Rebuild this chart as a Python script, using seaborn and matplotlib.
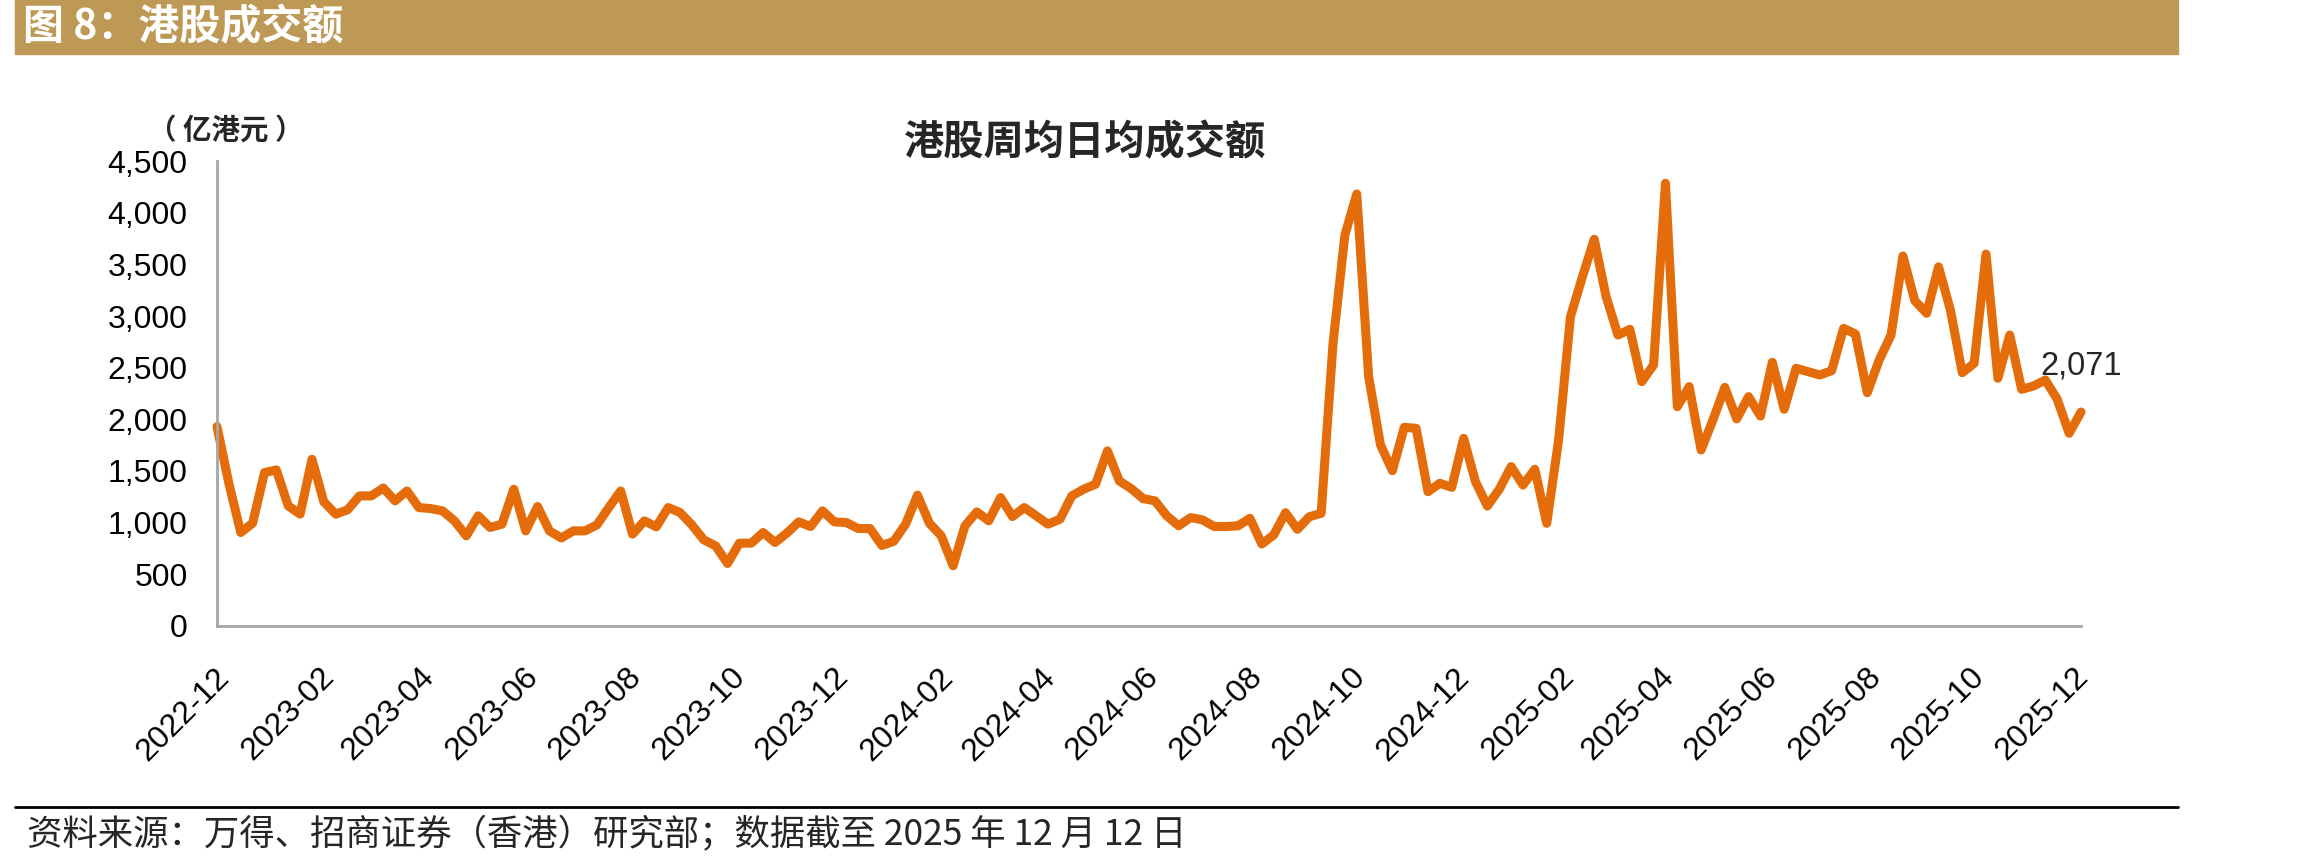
import pandas as pd
import seaborn as sns
import matplotlib.pyplot as plt
from matplotlib.ticker import FuncFormatter, MultipleLocator
from matplotlib.patches import Rectangle
from matplotlib.lines import Line2D
from matplotlib.transforms import ScaledTranslation

# weekly data, Fridays
first_week = "2022-12-09"
last_week = "2025-12-12"
turnover = [
    1930, 1380, 903, 994, 1484, 1510, 1161, 1081, 1613, 1200,
    1081, 1123, 1258, 1258, 1335, 1210, 1306, 1145, 1135, 1113,
    1016, 871, 1065, 952, 984, 1323, 919, 1155, 919, 850,
    919, 919, 977, 1145, 1306, 887, 1016, 958, 1145, 1097,
    977, 832, 774, 603, 800, 800, 903, 806, 897, 1006,
    961, 1113, 1006, 1000, 942, 942, 778, 818, 984, 1265,
    994, 871, 581, 968, 1103, 1016, 1242, 1058, 1145, 1065,
    984, 1032, 1258, 1323, 1371, 1694, 1403, 1329, 1232, 1210,
    1065, 968, 1048, 1026, 961, 961, 968, 1041, 792, 879,
    1095, 934, 1056, 1089, 2737, 3787, 4184, 2413, 1751, 1502,
    1923, 1913, 1299, 1380, 1341, 1816, 1396, 1160, 1322, 1542,
    1364, 1516, 992, 1800, 2995, 3380, 3745, 3189, 2817, 2873,
    2365, 2527, 4288, 2123, 2317, 1703, 1994, 2310, 2004, 2220,
    2032, 2553, 2097, 2495, 2462, 2430, 2472, 2882, 2827, 2258,
    2575, 2817, 3583, 3150, 3028, 3478, 3060, 2452, 2543, 3602,
    2398, 2817, 2291, 2323, 2381, 2194, 1865, 2071,
]
last_label = "2,071"
header = "图 8：港股成交额"
title = "港股周均日均成交额"
unit = "（ 亿港元 ）"
source = "资料来源：万得、招商证券（香港）研究部；数据截至 2025 年 12 月 12 日"

dates = pd.date_range(first_week, last_week, freq="W-FRI")
df = pd.DataFrame({"date": dates, "value": turnover})
tick_dates = pd.date_range(first_week, "2025-12-09", freq=pd.DateOffset(months=2))
tick_labels = [d.strftime("%Y-%m") for d in tick_dates]

sns.set_style("white")
plt.rcParams["font.family"] = ["Liberation Sans", "Noto Sans CJK SC", "DejaVu Sans"]
cjk = ["Noto Sans CJK SC", "DejaVu Sans"]

W, H = 2306, 867
fig = plt.figure(figsize=(W / 100, H / 100), dpi=100)
ax = fig.add_axes([217 / W, 1 - 625.7 / H, (2081 - 217) / W, (625.7 - 161.4) / H])

sns.lineplot(data=df, x="date", y="value", ax=ax, color="#E46C0A", linewidth=6.5,
             solid_joinstyle="round", solid_capstyle="round", clip_on=False)

ax.set_xlim(dates[0], dates[-1])
ax.set_ylim(0, 4500)
ax.yaxis.set_major_locator(MultipleLocator(500))
ax.yaxis.set_major_formatter(FuncFormatter(lambda v, p: f"{int(v):,}"))
ax.set_xticks(tick_dates)
ax.set_xticklabels(tick_labels)
ax.set_xlabel("")
ax.set_ylabel("")

for side in ["top", "right"]:
    ax.spines[side].set_visible(False)
for side in ["left", "bottom"]:
    ax.spines[side].set_color("#A6A6A6")
    ax.spines[side].set_linewidth(2)
ax.tick_params(axis="both", direction="out", length=7.2, width=1.8, color="#A6A6A6",
               labelsize=23, labelcolor="black")
ax.tick_params(axis="y", pad=14)
ax.tick_params(axis="x", pad=19)
plt.setp(ax.get_xticklabels(), rotation=45, ha="right", va="top", rotation_mode="anchor")
shift = ScaledTranslation(-3 / 100, 0, fig.dpi_scale_trans)
for lab in ax.get_xticklabels():
    lab.set_transform(lab.get_transform() + shift)

ax.annotate(last_label, xy=(dates[-1], turnover[-1]), xytext=(0, 33),
            textcoords="offset points", ha="center", va="center", fontsize=23.5)

# header band
fig.patches.append(Rectangle((15 / W, 1 - 54 / H), (2178 - 15) / W, 54 / H,
                             transform=fig.transFigure, color="#BE9955", zorder=0))
fig.text(23 / W, 1 - 27 / H, header, ha="left", va="center", fontsize=29.5,
         fontweight="bold", color="white", family=cjk)

fig.text(1085.5 / W, 1 - 143 / H, title, ha="center", va="center", fontsize=29,
         fontweight="bold", family=cjk)
fig.text(226 / W, 1 - 131 / H, unit, ha="center", va="center", fontsize=20.5,
         fontweight="bold", family=cjk)

# footer
fig.lines.append(Line2D([15 / W, 2178 / W], [1 - 806.7 / H, 1 - 806.7 / H],
                        transform=fig.transFigure, color="black", linewidth=2))
fig.text(27 / W, 1 - 835 / H, source, ha="left", va="center", fontsize=25.5, family=cjk)

fig.savefig("out.png", dpi=100)
